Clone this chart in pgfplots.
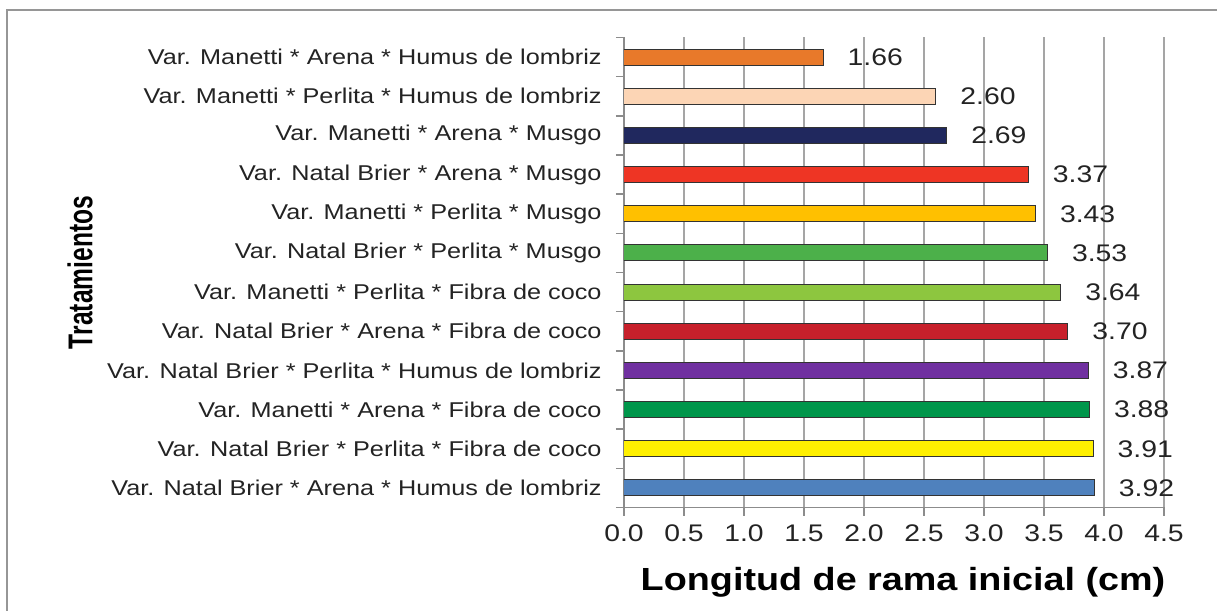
\documentclass[border=0pt]{standalone}
\usepackage{pgfplots}
\pgfplotsset{compat=1.18}
\usepackage{fontspec}
\setmainfont[FakeStretch=1.18]{Liberation Sans}
\newfontfamily\ylfont{Liberation Sans}
\definecolor{c1}{HTML}{E8792A}
\definecolor{c2}{HTML}{FCD5B5}
\definecolor{c3}{HTML}{20285E}
\definecolor{c4}{HTML}{EE3524}
\definecolor{c5}{HTML}{FFC000}
\definecolor{c6}{HTML}{4CB04A}
\definecolor{c7}{HTML}{8DC63F}
\definecolor{c8}{HTML}{C7202B}
\definecolor{c9}{HTML}{7030A0}
\definecolor{c10}{HTML}{00964B}
\definecolor{c11}{HTML}{FFF000}
\definecolor{c12}{HTML}{4F81BD}
\definecolor{gridgray}{RGB}{165,165,165}
\definecolor{axgray}{RGB}{140,140,140}
\definecolor{txt}{RGB}{35,35,35}
\begin{document}
\begin{tikzpicture}
\begin{axis}[
  scale only axis,
  width=270pt, height=235pt,
  xbar, bar width=8pt, bar shift=0pt,
  xmin=0, xmax=4.5,
  ymin=-0.5, ymax=11.5,
  axis lines*=left,
  axis line style={axgray, line width=0.8pt},
  xtick={0,0.5,...,4.5},
  xmajorgrids,
  major grid style={gridgray, line width=0.9pt},
  x tick style={axgray, line width=0.8pt},
  tick align=outside,
  major tick length=4pt,
  ytick={0,1,...,11},
  y tick style={draw=none},
  yticklabels={
    Var. Natal Brier * Arena * Humus de lombriz,
    Var. Natal Brier * Perlita * Fibra de coco,
    Var. Manetti * Arena * Fibra de coco,
    Var. Natal Brier * Perlita * Humus de lombriz,
    Var. Natal Brier * Arena * Fibra de coco,
    Var. Manetti * Perlita * Fibra de coco,
    Var. Natal Brier * Perlita * Musgo,
    Var. Manetti * Perlita * Musgo,
    Var. Natal Brier * Arena * Musgo,
    Var. Manetti * Arena * Musgo,
    Var. Manetti * Perlita * Humus de lombriz,
    Var. Manetti * Arena * Humus de lombriz},
  yticklabel style={font=\fontsize{10.7pt}{12pt}\selectfont, text=txt, inner sep=0pt, anchor=east, xshift=-7pt},
  extra y ticks={-0.5,0.5,...,11.5},
  extra y tick labels={},
  extra y tick style={y tick style={draw=axgray, line width=0.8pt}, major tick length=4pt, ymajorgrids=false},
  xticklabel style={font=\fontsize{12pt}{14pt}\selectfont, text=txt, yshift=-1pt},
  /pgf/number format/assume math mode=true,
  xticklabel={\pgfmathprintnumber[fixed, fixed zerofill, precision=1]{\tick}},
  xlabel={Longitud de rama inicial (cm)},
  xlabel style={font=\fontsize{16pt}{18pt}\selectfont\bfseries, text=black, at={(rel axis cs:0.5,0)}, anchor=center, yshift=-37.5pt, xshift=4.5pt},
  ylabel={\scalebox{1}[1.4]{\ylfont\fontsize{12.3pt}{14pt}\selectfont\bfseries Tratamientos}},
  ylabel style={at={(axis description cs:-1.0074,0.5)}, anchor=center, text=black},
  nodes near coords,
  nodes near coords align={horizontal},
  every node near coord/.append style={font=\fontsize{12pt}{14pt}\selectfont, text=txt, anchor=west, inner sep=0pt, xshift=12pt},
  point meta=x,
  /pgf/number format/.cd, fixed, fixed zerofill, precision=2,
]
\addplot[fill=c12, draw=black!80, line width=0.5pt] coordinates {(3.92,0)};
\addplot[fill=c11, draw=black!80, line width=0.5pt] coordinates {(3.91,1)};
\addplot[fill=c10, draw=black!80, line width=0.5pt] coordinates {(3.88,2)};
\addplot[fill=c9, draw=black!80, line width=0.5pt] coordinates {(3.87,3)};
\addplot[fill=c8, draw=black!80, line width=0.5pt] coordinates {(3.70,4)};
\addplot[fill=c7, draw=black!80, line width=0.5pt] coordinates {(3.64,5)};
\addplot[fill=c6, draw=black!80, line width=0.5pt] coordinates {(3.53,6)};
\addplot[fill=c5, draw=black!80, line width=0.5pt] coordinates {(3.43,7)};
\addplot[fill=c4, draw=black!80, line width=0.5pt] coordinates {(3.37,8)};
\addplot[fill=c3, draw=black!80, line width=0.5pt] coordinates {(2.69,9)};
\addplot[fill=c2, draw=black!80, line width=0.5pt] coordinates {(2.60,10)};
\addplot[fill=c1, draw=black!80, line width=0.5pt] coordinates {(1.66,11)};
\end{axis}
\draw[color={rgb,255:red,150;green,150;blue,150}, line width=1pt] (-308.5pt,-52pt) -- (-308.5pt,248.75pt) -- (297pt,248.75pt);
\pgfresetboundingbox
\useasboundingbox (-312pt,-51.75pt) rectangle (296.5pt,253.75pt);
\end{tikzpicture}
\end{document}
